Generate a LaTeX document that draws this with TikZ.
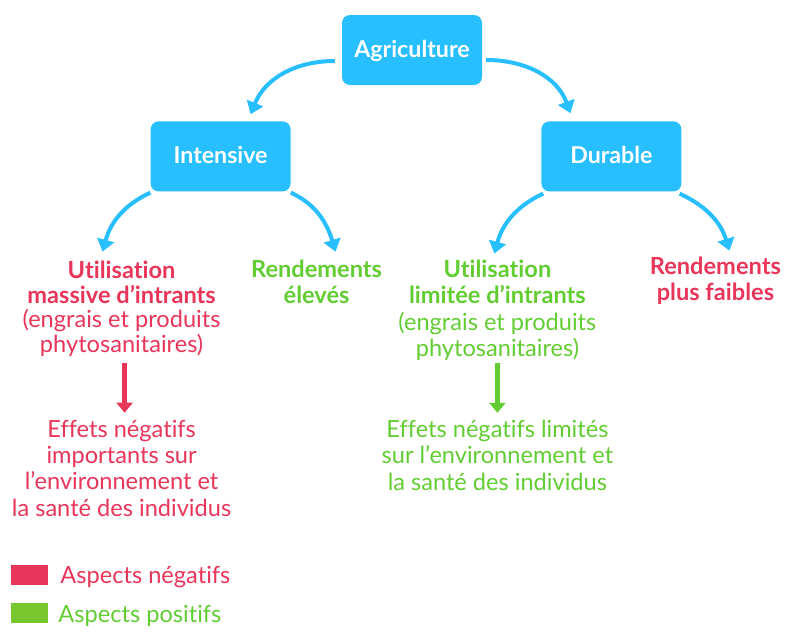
\documentclass[tikz,border=0pt]{standalone}
\usepackage{fontspec}
\setmainfont{Lato}[Ligatures=NoCommon]
\usetikzlibrary{arrows.meta,positioning}
\definecolor{boxblue}{HTML}{27BFFF}
\definecolor{negred}{HTML}{E8355A}
\definecolor{posgreen}{HTML}{62CC33}
\definecolor{legendgreen}{HTML}{78C62E}
\tikzset{
  branch/.style={draw=none,fill=boxblue,rounded corners=8pt,minimum width=140pt,minimum height=70pt,text=white,text height=15pt,text depth=0pt,font=\fontsize{23.2}{26}\selectfont\bfseries},
  bodytxt/.style={align=center,inner sep=0pt,font=\fontsize{23.6}{26.4}\selectfont},
  badtxt/.style={bodytxt,text=negred},
  goodtxt/.style={bodytxt,text=posgreen},
  flow/.style={draw=boxblue,line width=4pt,-{Triangle[length=12pt,width=17pt]}},
  effect/.style={line width=5pt,-{Triangle[length=10pt,width=16pt]}},
  swatch/.style={inner sep=0pt,minimum width=37pt,minimum height=20pt}
}

\begin{document}
\begin{tikzpicture}[x=1pt,y=-1pt]
    \useasboundingbox (0,0) rectangle (789,632);
    \node[branch] (agri) at (412,50) {Agriculture};
    \node[branch,below left=36pt and 51pt of agri] (intensive) {Intensive};
    \node[branch,below right=36pt and 59pt of agri] (durable) {Durable};
    % text under the boxes
    \node[badtxt,below=69pt of intensive,xshift=-99pt] (massive) {\textbf{Utilisation}\\[-1.7pt]\textbf{massive d’intrants}\\[-1.7pt](engrais et produits\\[-1.7pt]phytosanitaires)};
    \node[goodtxt,below=68pt of intensive,xshift=96pt] (eleves) {\textbf{Rendements}\\\textbf{élevés}};
    \node[goodtxt,below=68pt of durable,xshift=-114pt] (limitee) {\textbf{Utilisation}\\\textbf{limitée d’intrants}\\(engrais et produits\\phytosanitaires)};
    \node[badtxt,below=65pt of durable,xshift=104pt] (faibles) {\textbf{Rendements}\\\textbf{plus faibles}};
    \node[badtxt,below=63pt of massive] (effetsneg) {Effets négatifs\\importants sur\\l’environnement et\\la santé des individus};
    \node[goodtxt,below=59pt of limitee] (effetspos) {Effets négatifs limités\\sur l’environnement et\\la santé des individus};
    % legend
    \node[swatch,fill=negred] (rednote) at (29.5,575) {};
    \node[swatch,fill=legendgreen] (greennote) at (29.5,613) {};
    \node[badtxt,right=12pt of rednote,yshift=-2pt] (rednotetxt) {Aspects négatifs};
    \node[goodtxt,right=10pt of greennote,yshift=-3pt] (greennotetxt) {Aspects positifs};
    % arrows
    \draw[flow] ([shift={(-7pt,-11pt)}]agri.west) to[out=180,in=68] ([shift={(30pt,7pt)}]intensive.north);
    \draw[flow] ([shift={(4pt,-10pt)}]agri.east) to[out=0,in=110] ([shift={(-41pt,8pt)}]durable.north);
    \draw[flow] ([shift={(0pt,-1pt)}]intensive.south west) to[out=-155,in=75] ([shift={(-19pt,9pt)}]massive.north);
    \draw[flow] ([shift={(0pt,-1pt)}]intensive.south east) to[out=-25,in=107] ([shift={(19pt,8pt)}]eleves.north);
    \draw[flow] ([shift={(2pt,-2pt)}]durable.south west) to[out=-155,in=75] ([shift={(-3pt,6pt)}]limitee.north);
    \draw[flow] ([shift={(-2pt,-2pt)}]durable.south east) to[out=-25,in=107] ([shift={(14pt,6pt)}]faibles.north);
    \draw[effect,draw=negred,color=negred] ([shift={(3pt,-6pt)}]massive.south) -- ([shift={(3pt,7pt)}]effetsneg.north);
    \draw[effect,draw=posgreen,color=posgreen] ([yshift=-2pt]limitee.south) -- ([yshift=7pt]effetspos.north);
\end{tikzpicture}
\end{document}
